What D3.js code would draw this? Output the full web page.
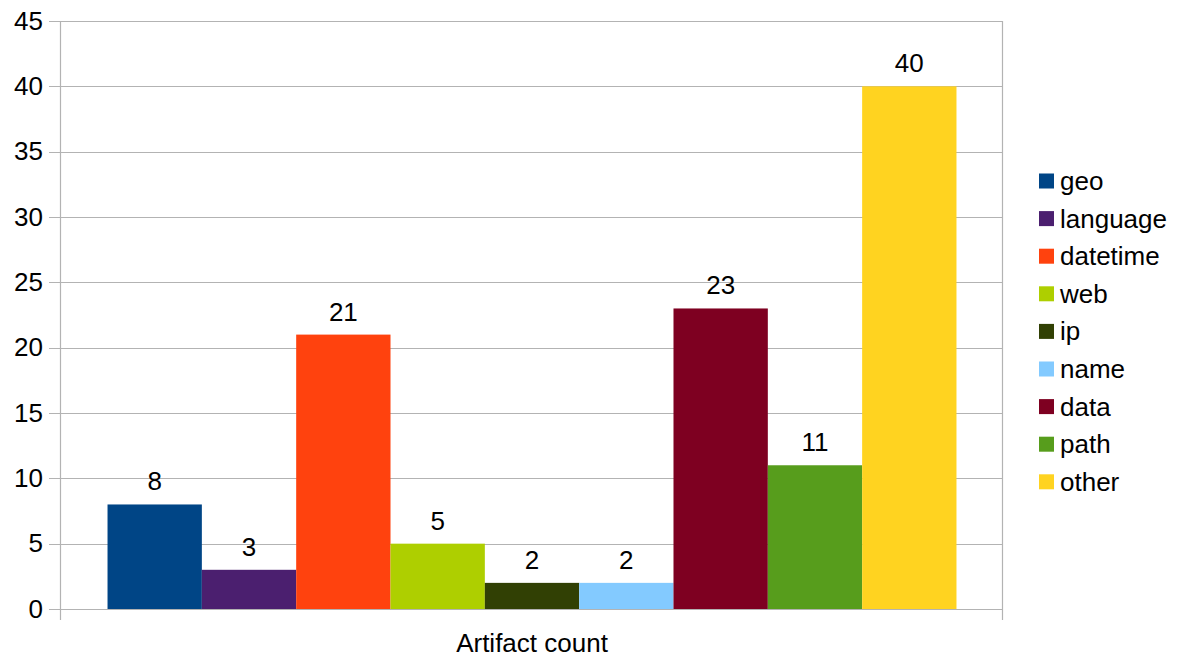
<!DOCTYPE html>
<html>
<head>
<meta charset="utf-8">
<script src="https://cdn.jsdelivr.net/npm/d3@7"></script>
<style>
  body { margin: 0; background: #fff; }
  text { font-family: "Liberation Sans", Arial, sans-serif; fill: #000; }
</style>
</head>
<body>
<div id="canvas"></div>
<script>
const categories = ["geo", "language", "datetime", "web", "ip", "name", "data", "path", "other"];
const counts = [8, 3, 21, 5, 2, 2, 23, 11, 40];
const colors = ["#004586", "#4b1f6f", "#ff420e", "#aecf00", "#314004", "#83caff", "#7e0021", "#579d1c", "#ffd320"];
const yTicks = [0, 5, 10, 15, 20, 25, 30, 35, 40, 45];
const groupLabel = "Artifact count";

const margin = { top: 21, right: 174, bottom: 48, left: 61 };
const width = 1177 - margin.left - margin.right;
const height = 657 - margin.top - margin.bottom;
const fontSize = 26;
const gridColor = "#b3b3b3";

const svg = d3
  .select("#canvas")
  .append("svg")
  .attr("width", 1177)
  .attr("height", 657)
  .append("g")
  .attr("transform", "translate(" + margin.left + "," + margin.top + ")");

const y = d3.scaleLinear().domain([0, 45]).range([height, 0]);

// one group on x, bars side by side inside it
const outer = d3.scaleBand().domain([groupLabel]).range([0, width]).paddingInner(0).paddingOuter(0.0548);
const x = d3.scaleBand().domain(categories).range([outer(groupLabel), outer(groupLabel) + outer.bandwidth()]).padding(0);

// grid
svg
  .append("g")
  .attr("class", "grid")
  .selectAll("line")
  .data(yTicks)
  .join("line")
  .attr("x1", -12)
  .attr("x2", width)
  .attr("y1", (d) => Math.round(y(d)) + 0.5)
  .attr("y2", (d) => Math.round(y(d)) + 0.5)
  .attr("stroke", gridColor)
  .attr("stroke-width", 1.2);

// left + right frame lines
[0, width].forEach((px) => {
  svg
    .append("line")
    .attr("x1", px - 0.5)
    .attr("x2", px - 0.5)
    .attr("y1", 0)
    .attr("y2", height + 11)
    .attr("stroke", gridColor)
    .attr("stroke-width", 1.2);
});

// y labels
const yAxis = d3.axisLeft(y).tickValues(yTicks).tickSize(0).tickPadding(18);
svg
  .append("g")
  .call(yAxis)
  .call((g) => g.select(".domain").remove())
  .selectAll("text")
  .style("font-size", fontSize + "px")
  .style("font-family", "Liberation Sans, Arial, sans-serif")
  .attr("fill", "#000");

// bars
svg
  .selectAll(".bar")
  .data(counts)
  .join("rect")
  .attr("class", "bar")
  .attr("x", (d, i) => x(categories[i]))
  .attr("y", (d) => y(d))
  .attr("width", x.bandwidth())
  .attr("height", (d) => height - y(d))
  .attr("fill", (d, i) => colors[i]);

// value labels
svg
  .selectAll(".val")
  .data(counts)
  .join("text")
  .attr("class", "val")
  .attr("x", (d, i) => x(categories[i]) + x.bandwidth() / 2)
  .attr("y", (d) => y(d) - 14)
  .attr("text-anchor", "middle")
  .style("font-size", fontSize + "px")
  .text((d) => d);

// x label
svg
  .append("text")
  .attr("x", outer(groupLabel) + outer.bandwidth() / 2)
  .attr("y", height + 43)
  .attr("text-anchor", "middle")
  .style("font-size", fontSize + "px")
  .text(groupLabel);

// legend
const legend = svg
  .append("g")
  .attr("transform", "translate(" + (width + 36) + "," + 160 + ")");

const item = legend
  .selectAll("g")
  .data(categories)
  .join("g")
  .attr("transform", (d, i) => "translate(0," + i * 37.6 + ")");

item
  .append("rect")
  .attr("x", 0)
  .attr("y", -7.5)
  .attr("width", 15)
  .attr("height", 15)
  .attr("fill", (d, i) => colors[i]);

item
  .append("text")
  .attr("x", 21)
  .attr("y", 9)
  .style("font-size", fontSize + "px")
  .text((d) => d);
</script>
</body>
</html>
